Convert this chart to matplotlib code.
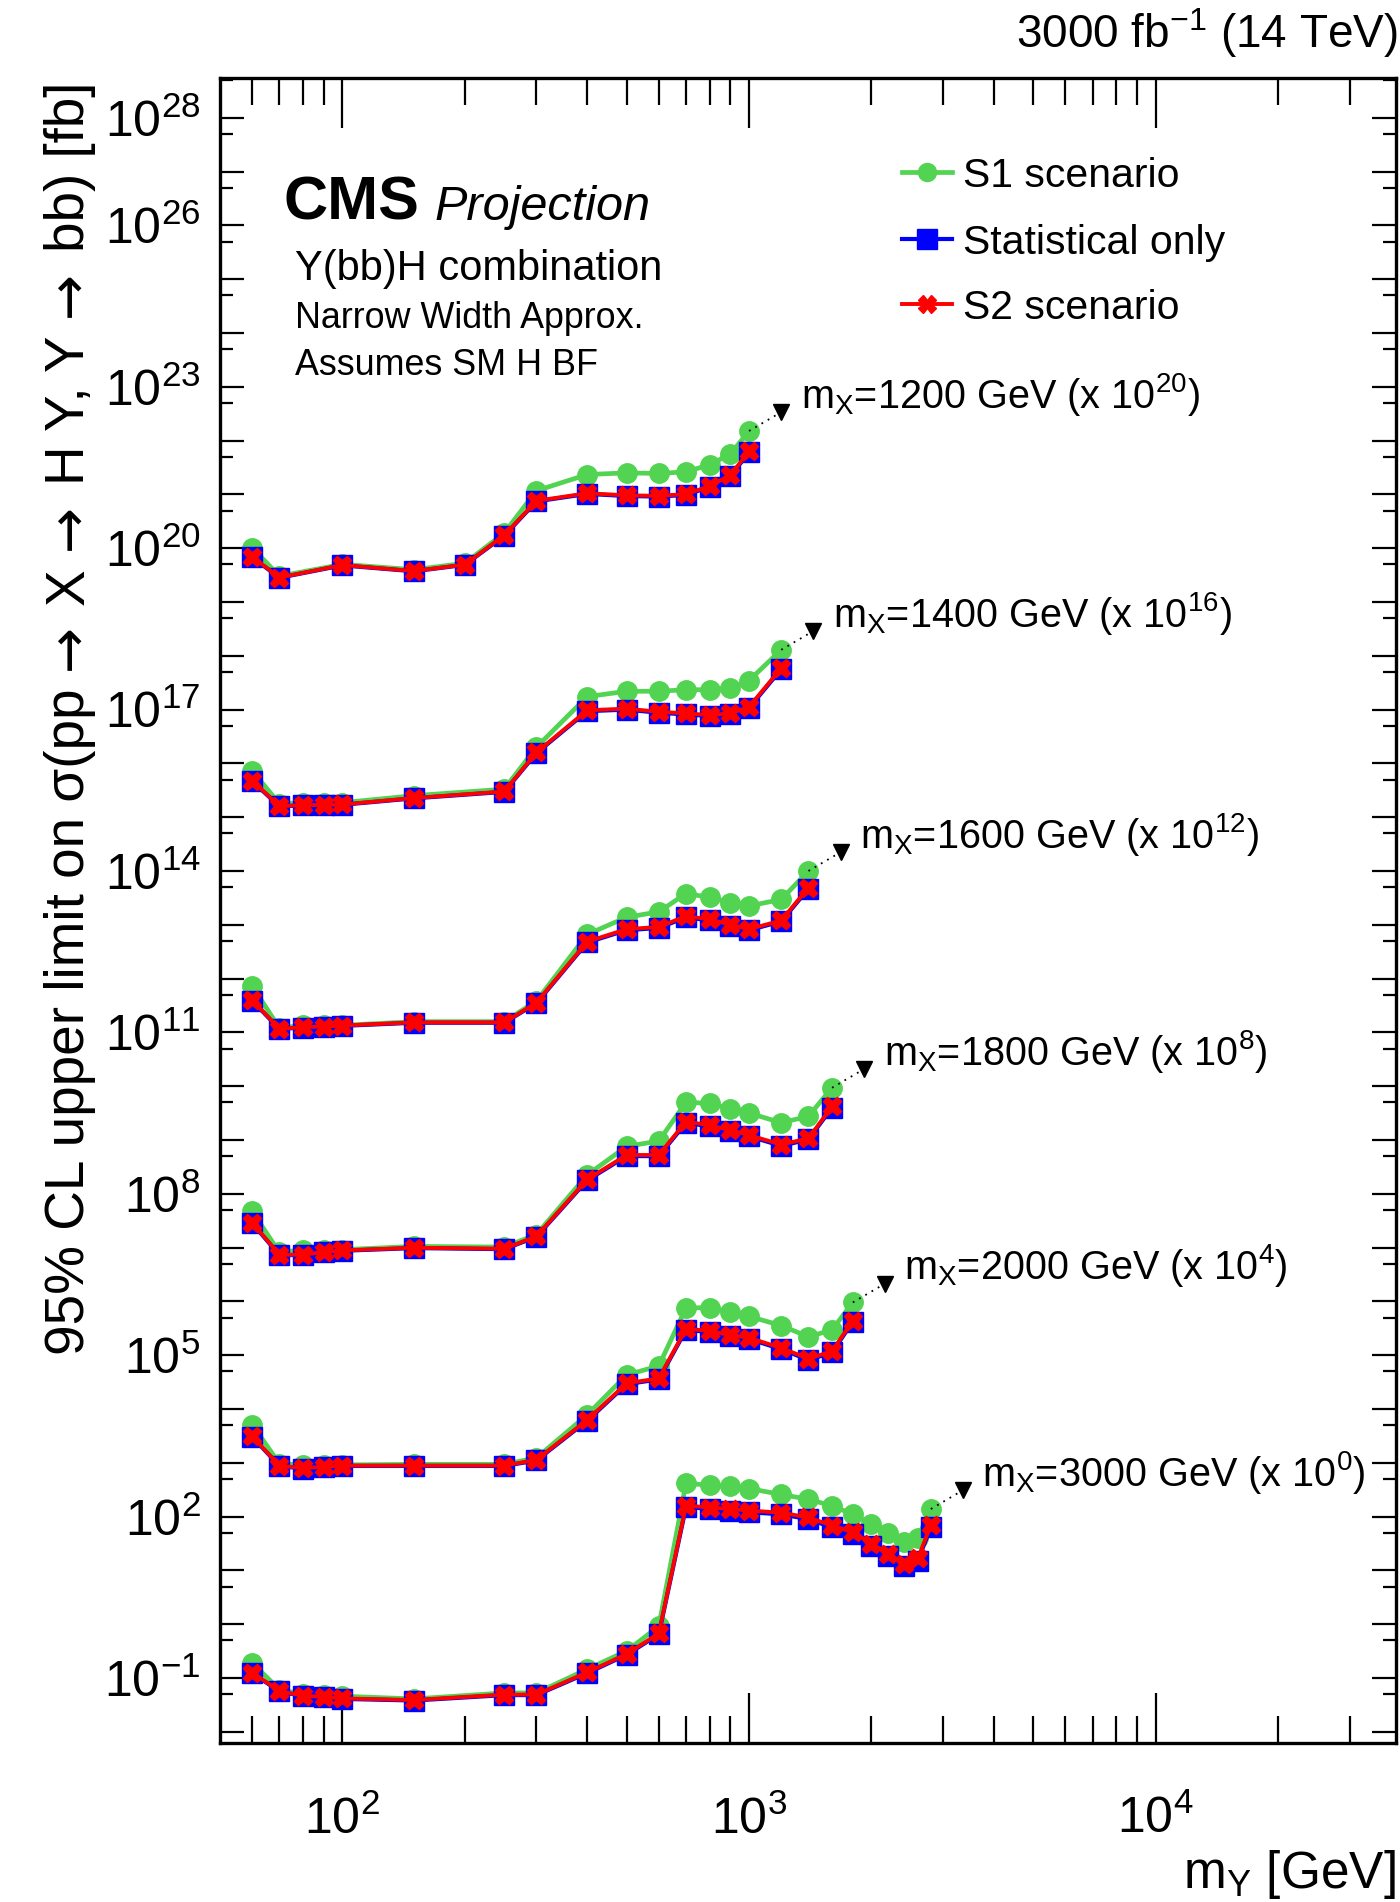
import numpy as np
import matplotlib
matplotlib.use("Agg")
import matplotlib.pyplot as plt
from matplotlib.ticker import FixedLocator, FuncFormatter, NullFormatter

plt.rcParams['font.family'] = ['Liberation Sans', 'DejaVu Sans']
plt.rcParams['mathtext.fontset'] = 'custom'
plt.rcParams['mathtext.rm'] = 'Liberation Sans'
plt.rcParams['mathtext.it'] = 'Liberation Sans:italic'
plt.rcParams['mathtext.bf'] = 'Liberation Sans:bold'
plt.rcParams['mathtext.sf'] = 'Liberation Sans'

# ---------------- data (limits in fb, before scaling) ----------------
mx_values = [1200, 1400, 1600, 1800, 2000, 3000]
scale_exp = [20, 16, 12, 8, 4, 0]

my_1200 = [60, 70, 100, 150, 200, 250, 300, 400, 500, 600, 700, 800, 900, 1000]
s1_1200 = [1.02, 0.302, 0.501, 0.398, 0.525, 1.91, 11.7, 23.4, 25.1, 24.5, 26.3, 35.5, 56.2, 151]
st_1200 = [0.676, 0.282, 0.479, 0.372, 0.49, 1.70, 7.41, 10.2, 9.33, 9.12, 9.77, 13.8, 21.9, 60.3]
s2_1200 = [0.69, 0.285, 0.485, 0.376, 0.495, 1.74, 7.6, 10.5, 9.6, 9.4, 10.1, 14.3, 22.8, 63.0]

my_1400 = [60, 70, 80, 90, 100, 150, 250, 300, 400, 500, 600, 700, 800, 900, 1000, 1200]
s1_1400 = [0.724, 0.178, 0.186, 0.186, 0.186, 0.251, 0.331, 2.0, 17.4, 21.9, 21.9, 23.4, 23.4, 25.1, 34.7, 129]
st_1400 = [0.468, 0.158, 0.166, 0.166, 0.170, 0.224, 0.295, 1.55, 9.33, 10.0, 8.71, 8.13, 7.59, 8.13, 10.7, 56.2]
s2_1400 = [0.48, 0.160, 0.168, 0.168, 0.172, 0.227, 0.30, 1.60, 9.7, 10.4, 9.1, 8.5, 7.9, 8.5, 11.2, 59.0]

my_1600 = [60, 70, 80, 90, 100, 150, 250, 300, 400, 500, 600, 700, 800, 900, 1000, 1200, 1400]
s1_1600 = [0.724, 0.120, 0.135, 0.135, 0.135, 0.158, 0.158, 0.380, 6.61, 13.8, 17.4, 38.0, 32.4, 25.7, 22.4, 29.5, 100]
st_1600 = [0.389, 0.115, 0.123, 0.126, 0.132, 0.151, 0.151, 0.347, 4.68, 7.94, 8.71, 13.8, 12.0, 9.55, 7.94, 11.5, 46.8]
s2_1600 = [0.40, 0.116, 0.125, 0.128, 0.134, 0.153, 0.153, 0.355, 4.85, 8.3, 9.1, 14.5, 12.6, 10.0, 8.3, 12.0, 49.0]

my_1800 = [60, 70, 80, 90, 100, 150, 250, 300, 400, 500, 600, 700, 800, 900, 1000, 1200, 1400, 1600]
s1_1800 = [0.468, 0.0813, 0.0912, 0.0912, 0.0912, 0.105, 0.102, 0.174, 2.24, 7.59, 9.55, 50.1, 47.9, 38.0, 31.6, 20.9, 27.5, 93.3]
st_1800 = [0.282, 0.0724, 0.0724, 0.0813, 0.0871, 0.0977, 0.0933, 0.158, 1.78, 5.01, 5.01, 20.9, 17.8, 14.5, 11.7, 7.76, 10.2, 39.8]
s2_1800 = [0.29, 0.0735, 0.0735, 0.0825, 0.0885, 0.099, 0.095, 0.162, 1.85, 5.25, 5.25, 22.0, 18.7, 15.2, 12.3, 8.2, 10.7, 42.0]

my_2000 = [60, 70, 80, 90, 100, 150, 250, 300, 400, 500, 600, 700, 800, 900, 1000, 1200, 1400, 1600, 1800]
s1_2000 = [0.513, 0.0955, 0.0912, 0.0912, 0.0912, 0.0933, 0.0933, 0.123, 0.776, 4.27, 6.31, 75.9, 75.9, 63.1, 52.5, 35.5, 21.9, 29.5, 95.5]
st_2000 = [0.302, 0.0871, 0.0776, 0.0832, 0.0871, 0.0871, 0.0871, 0.110, 0.603, 2.88, 3.55, 29.5, 26.9, 22.4, 20.0, 12.9, 8.13, 11.2, 41.7]
s2_2000 = [0.31, 0.0885, 0.079, 0.0845, 0.0885, 0.0885, 0.0885, 0.113, 0.625, 3.0, 3.7, 31.0, 28.2, 23.5, 21.0, 13.6, 8.6, 11.8, 44.0]

my_3000 = [60, 70, 80, 90, 100, 150, 250, 300, 400, 500, 600, 700, 800, 900, 1000,
           1200, 1400, 1600, 1800, 2000, 2200, 2400, 2600, 2800]
s1_3000 = [0.191, 0.0603, 0.0501, 0.0479, 0.0457, 0.0407, 0.0525, 0.0525, 0.145, 0.316, 0.912,
           417, 380, 363, 331, 257, 209, 158, 110, 72.4, 50.1, 33.1, 40.7, 138]
st_3000 = [0.123, 0.0562, 0.0457, 0.0437, 0.0407, 0.0380, 0.0479, 0.0479, 0.123, 0.269, 0.646,
           151, 138, 129, 120, 110, 89.1, 63.1, 46.8, 28.8, 18.6, 12.0, 15.1, 63.1]
s2_3000 = [0.126, 0.057, 0.0465, 0.0445, 0.0415, 0.0388, 0.049, 0.049, 0.127, 0.278, 0.67,
           160, 147, 138, 129, 118, 96, 68, 51, 31.5, 20.5, 13.3, 16.6, 69.0]

series = [
    (my_1200, s1_1200, st_1200, s2_1200),
    (my_1400, s1_1400, st_1400, s2_1400),
    (my_1600, s1_1600, st_1600, s2_1600),
    (my_1800, s1_1800, st_1800, s2_1800),
    (my_2000, s1_2000, st_2000, s2_2000),
    (my_3000, s1_3000, st_3000, s2_3000),
]

legend_labels = ["S1 scenario", "Statistical only", "S2 scenario"]
ytick_label_exps = [28, 26, 23, 20, 17, 14, 11, 8, 5, 2, -1]
ytitle_parts = ["95% CL upper limit on σ(pp", "→", "X", "→", "H Y, Y", "→", "bb) [fb]"]

# ---------------- figure ----------------
W, H = 1400, 1902
fig = plt.figure(figsize=(W / 100, H / 100), dpi=100)

def fx(px):
    return px / W

def fy(py):
    return 1 - py / H

ax_l, ax_r, ax_t, ax_b = 220, 1396, 78, 1743
ax = fig.add_axes([fx(ax_l), fy(ax_b), (ax_r - ax_l) / W, (ax_b - ax_t) / H])

GREEN = '#52d452'
BLUE = '#0000ff'
RED = '#ff0000'

for (my, s1, st, s2), mx, ex in zip(series, mx_values, scale_exp):
    f = 10.0 ** ex
    my = np.array(my, dtype=float)
    s1 = np.array(s1) * f
    st = np.array(st) * f
    s2 = np.array(s2) * f
    ax.plot(my, s1, color=GREEN, lw=3.4, marker='o', ms=14, mec=GREEN, mfc=GREEN, zorder=3)
    ax.plot(my, st, color=BLUE, lw=3.0, marker='s', ms=14.5, mec=BLUE, mfc=BLUE, zorder=4)
    ax.plot(my, s2, color=RED, lw=2.8, marker='X', ms=13.5, mec=RED, mfc=RED, zorder=5)
    # label pointer
    xt = my[-1] * 1.2
    yt = s1[-1] * 10 ** 0.35
    ax.plot([my[-1], xt], [s1[-1], yt], color='black', lw=1.3, ls=(0, (1, 3)), zorder=6)
    ax.plot([xt], [yt], marker='v', ms=12, color='black', zorder=6)
    ax.annotate(r"m$_{\mathrm{X}}$=%d GeV (x 10$^{%d}$)" % (mx, ex), xy=(xt, yt),
                xytext=(14, 3), textcoords='offset points', ha='left', va='baseline',
                fontsize=28.5, zorder=7)

ax.set_xscale('log')
ax.set_yscale('log')
ax.set_xlim(50, 39000)
ax.set_ylim(10 ** -2.21, 10 ** 28.74)

# x ticks
ax.xaxis.set_major_locator(FixedLocator([100, 1000, 10000]))
ax.xaxis.set_major_formatter(FuncFormatter(lambda v, p: r"$10^{%d}$" % round(np.log10(v))))
xminor = [m * 10 ** e for e in range(1, 5) for m in range(2, 10) if 50 < m * 10 ** e < 39000]
ax.xaxis.set_minor_locator(FixedLocator(xminor))
ax.xaxis.set_minor_formatter(NullFormatter())

# y ticks
ymajor = [10.0 ** e for e in range(-2, 29)]
ax.yaxis.set_major_locator(FixedLocator(ymajor))
ax.yaxis.set_major_formatter(FuncFormatter(
    lambda v, p: (r"$10^{%d}$" % round(np.log10(v))) if round(np.log10(v)) in ytick_label_exps else ""))
yminor = [5 * 10.0 ** e for e in range(-3, 29)]
ax.yaxis.set_minor_locator(FixedLocator(yminor))
ax.yaxis.set_minor_formatter(NullFormatter())

ax.tick_params(axis='x', which='major', direction='in', length=36, width=1.6, top=True, bottom=True,
               labelsize=36, pad=38)
ax.tick_params(axis='x', which='minor', direction='in', length=19.5, width=1.6, top=True, bottom=True)
ax.tick_params(axis='y', which='major', direction='in', length=17, width=1.6, left=True, right=True,
               labelsize=36, pad=14)
ax.tick_params(axis='y', which='minor', direction='in', length=9.5, width=1.6, left=True, right=True)
for sp in ax.spines.values():
    sp.set_linewidth(2.4)

# legend (manual)
def axfrac(px, py):
    return ((px - ax_l) / (ax_r - ax_l), (ax_b - py) / (ax_b - ax_t))

leg_rows = [172, 239, 304]
leg_styles = [(GREEN, 'o', 13, 3.4), (BLUE, 's', 14, 3.0), (RED, 'X', 12.5, 2.8)]
for lab, row, (c, mk, ms, lw) in zip(legend_labels, leg_rows, leg_styles):
    x0, y0 = axfrac(902, row)
    x1, _ = axfrac(952, row)
    xm, _ = axfrac(927, row)
    ax.plot([x0, x1], [y0, y0], color=c, lw=lw, transform=ax.transAxes, clip_on=False, zorder=8)
    ax.plot([xm], [y0], marker=mk, ms=ms, color=c, mec=c, transform=ax.transAxes, clip_on=False, zorder=8)
    xt, _ = axfrac(963, row)
    ax.text(xt, y0, lab, transform=ax.transAxes, fontsize=29.5, va='center_baseline', ha='left', zorder=8)

# CMS labels
fig.text(fx(284), fy(220), "CMS", fontsize=44, fontweight='bold', va='baseline', ha='left')
fig.text(fx(434), fy(220), "Projection", fontsize=35, fontstyle='italic', va='baseline', ha='left')
fig.text(fx(295), fy(280), "Y(bb)H combination", fontsize=30, va='baseline', ha='left')
fig.text(fx(295), fy(328), "Narrow Width Approx.", fontsize=25.8, va='baseline', ha='left')
fig.text(fx(295), fy(375), "Assumes SM H BF", fontsize=25.8, va='baseline', ha='left')

# header
fig.text(fx(1398), fy(48), r"3000 fb$^{-1}$ (14 TeV)", fontsize=33, ha='right', va='baseline')

# x axis title
fig.text(fx(1396), fy(1888), r"m$_{\mathrm{Y}}$ [GeV]", fontsize=37, ha='right', va='baseline')

# y axis title, built from pieces so the arrows can use a wider glyph
renderer = fig.canvas.get_renderer()
fs_t = 39.5
probe1 = fig.text(0, 0, "x x", fontsize=fs_t)
probe2 = fig.text(0, 0, "xx", fontsize=fs_t)
space_px = probe1.get_window_extent(renderer).width - probe2.get_window_extent(renderer).width
probe1.remove()
probe2.remove()
ypos = 1355.0
for part in ytitle_parts:
    is_arrow = part == "→"
    fam = ['DejaVu Sans'] if is_arrow else ['Liberation Sans', 'DejaVu Sans']
    t = fig.text(fx(84), fy(ypos), part, rotation=90, rotation_mode='anchor', ha='left',
                 va='baseline', fontsize=fs_t, family=fam)
    ext = t.get_window_extent(renderer)
    ypos -= ext.height + space_px + (7 if is_arrow else 0)
    if is_arrow:
        t.set_y(fy(ypos + ext.height + space_px + 7 - 3.5))

fig.savefig("out.png", dpi=100)
